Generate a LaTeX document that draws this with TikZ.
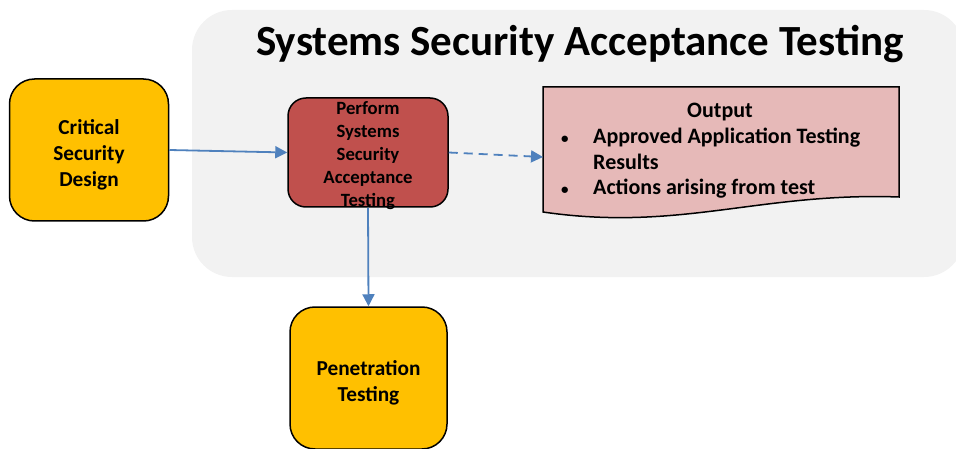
\documentclass[tikz,border=0pt]{standalone}
\usepackage{xcolor}
\usepackage{fontspec}
\setmainfont{Carlito}
\usepackage{tikz}
\usetikzlibrary{arrows.meta}
\definecolor{panelgrey}{HTML}{F2F2F2}
\definecolor{boxyellow}{HTML}{FFC000}
\definecolor{boxred}{HTML}{C0504D}
\definecolor{docpink}{HTML}{E6B9B8}
\definecolor{linkblue}{HTML}{4F81BD}
\newcommand{\lowstrut}{\rule{0pt}{1.12em}}
\newcommand{\spilltext}[1]{\smash{\raisebox{-7.5pt}{\begin{tabular}{@{}c@{}}#1\end{tabular}}}}
\begin{document}
\begin{tikzpicture}[x=1pt,y=-1pt,
  yellowbox/.style={draw=black,line width=1.5pt,fill=boxyellow,rounded corners=25pt,
    minimum width=157pt,minimum height=142pt,align=center,
    font=\fontsize{21.3}{26}\selectfont\bfseries},
  redbox/.style={draw=black,line width=1.5pt,fill=boxred,rounded corners=18pt,
    minimum width=160pt,minimum height=109pt,
    font=\fontsize{18.7}{23}\selectfont\bfseries},
  doctext/.style={font=\fontsize{22}{25.5}\selectfont\bfseries},
  link/.style={draw=linkblue,line width=1.8pt,-{Triangle[length=12pt,width=12pt]}}]
\useasboundingbox (0,0) rectangle (956,449);
\fill[panelgrey,rounded corners=40pt] (192,10) rectangle (964,277);
\node[font=\fontsize{43}{50}\selectfont\bfseries] (title) at (580,44) {Systems Security Acceptance Testing};
\node[yellowbox,minimum width=159pt] (design) at (89,150) {\lowstrut Critical\\Security\\Design};
\node[redbox] (perform) at (368,152.5) {\spilltext{Perform\\Systems\\Security\\Acceptance\\Testing}};
\node[yellowbox] (pentest) at (368.5,378) {\lowstrut Penetration\\Testing};
\filldraw[draw=black,line width=1.5pt,fill=docpink] (543,87) -- (899,87) -- (899,197)
  .. controls (760,192) and (680,232) .. (543,212) -- cycle;
\node[doctext] (outtitle) at (720,112) {Output};
\node[doctext,anchor=west,inner sep=0pt] (outlist) at (561,164)
  {\begin{tabular}{@{}p{32pt}@{}l@{}}
   {\fontsize{15}{15}\selectfont\textbullet} & Approved Application Testing\\
               & Results\\
   {\fontsize{15}{15}\selectfont\textbullet} & Actions arising from test
   \end{tabular}};
\coordinate (outin) at (543,157);
\draw[link] (design.east) -- (perform.west);
\draw[link,dashed,dash pattern=on 9pt off 6pt] (perform.east) -- (outin);
\draw[link] (perform.south) -- (pentest.north);
\end{tikzpicture}
\end{document}
